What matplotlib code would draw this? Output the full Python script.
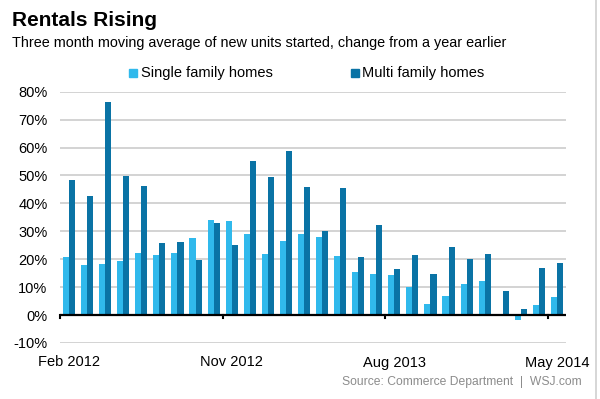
import matplotlib
matplotlib.use("Agg")
import matplotlib.pyplot as plt
import numpy as np
from matplotlib.lines import Line2D

plt.rcParams['font.family'] = ['Liberation Sans', 'DejaVu Sans']

months = ["Feb 2012", "Mar 2012", "Apr 2012", "May 2012", "Jun 2012", "Jul 2012", "Aug 2012",
          "Sep 2012", "Oct 2012", "Nov 2012", "Dec 2012", "Jan 2013", "Feb 2013", "Mar 2013",
          "Apr 2013", "May 2013", "Jun 2013", "Jul 2013", "Aug 2013", "Sep 2013", "Oct 2013",
          "Nov 2013", "Dec 2013", "Jan 2014", "Feb 2014", "Mar 2014", "Apr 2014", "May 2014"]
single_family = [20.7, 17.9, 18.4, 19.3, 22.4, 21.5, 22.4, 27.7, 33.9, 33.7, 28.9, 21.7, 26.6, 29.1,
                 27.9, 21.1, 15.4, 14.7, 14.2, 9.9, 3.8, 6.7, 11.0, 12.3, 0.0, -1.8, 3.5, 6.4]
multi_family = [48.4, 42.6, 76.2, 49.9, 46.2, 25.7, 26.1, 19.8, 32.8, 25.1, 55.2, 49.3, 58.9, 45.7,
                30.2, 45.4, 20.9, 32.2, 16.4, 21.4, 14.7, 24.5, 20.1, 21.7, 8.8, 2.1, 17.0, 18.7]
label_months = ["Feb 2012", "Nov 2012", "Aug 2013", "May 2014"]
y_ticks = [-10, 0, 10, 20, 30, 40, 50, 60, 70, 80]

c_single = "#30b9ec"
c_multi = "#0a73a5"

W, H = 600, 399
fig = plt.figure(figsize=(6.0, 3.99), dpi=100)
ax = fig.add_axes([60 / W, 1 - 343 / H, (566 - 60) / W, (343 - 91.7) / H])

x = np.arange(len(months))
bw = 0.335
ax.bar(x - bw / 2, single_family, width=bw, color=c_single, zorder=3, label="Single family homes")
ax.bar(x + bw / 2, multi_family, width=bw, color=c_multi, zorder=3, label="Multi family homes")

ax.set_xlim(-0.5, len(months) - 0.5)
ax.set_ylim(-10, 80)
for s in ax.spines.values():
    s.set_visible(False)
for v in y_ticks:
    if v != 0:
        ax.axhline(v, color="#c8c8c8", lw=1.1, zorder=1)
ax.axhline(0, color="black", lw=1.6, zorder=4)

ax.set_yticks(y_ticks)
ax.set_yticklabels([f"{v}%" for v in y_ticks], fontsize=10.5, color="black")
ax.tick_params(axis="y", length=0, pad=9)

# tick marks at group boundaries on zero line
lbl_idx = [months.index(m) for m in label_months]
for i in lbl_idx:
    ax.plot([i - 0.5, i - 0.5], [0, -1.2], color="black", lw=1.5, zorder=5, clip_on=False)
ax.set_xticks(lbl_idx)
ax.set_xticklabels(label_months, fontsize=10.5)
ax.tick_params(axis="x", length=0, pad=9)

fig.text(12 / W, 1 - 21 / H, "Rentals Rising", fontsize=15, fontweight="bold", va="center", ha="left")
fig.text(12 / W, 1 - 43 / H, "Three month moving average of new units started, change from a year earlier",
         fontsize=10.4, va="center", ha="left")

# legend
fig.patches.append(plt.Rectangle((129 / W, 1 - 77 / H), 8 / W, 8 / H, color=c_single, transform=fig.transFigure))
fig.text(141 / W, 1 - 73 / H, "Single family homes", fontsize=10.5, va="center", ha="left")
fig.patches.append(plt.Rectangle((351 / W, 1 - 77 / H), 8 / W, 8 / H, color=c_multi, transform=fig.transFigure))
fig.text(362 / W, 1 - 73 / H, "Multi family homes", fontsize=10.5, va="center", ha="left")

fig.text(582 / W, 1 - 382 / H, "Source: Commerce Department  |  WSJ.com", fontsize=8.7, color="#8c8c8c",
         va="center", ha="right")

fig.lines.append(Line2D([596 / W, 596 / W], [0, 1], color="#d0d0d0", lw=1.2, transform=fig.transFigure))

fig.savefig("out.png", dpi=100)
